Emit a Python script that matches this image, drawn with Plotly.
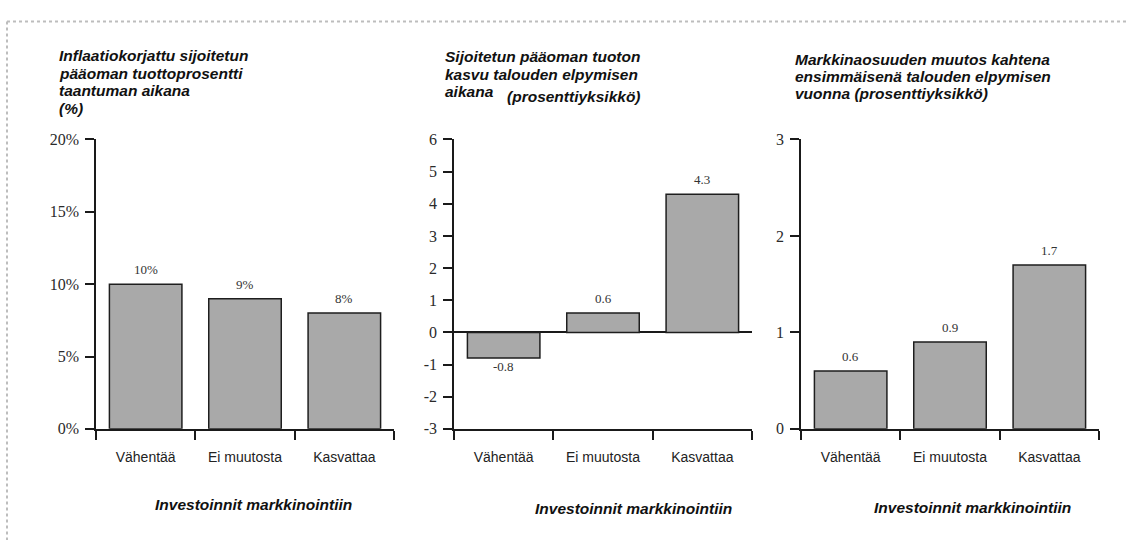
import plotly.graph_objects as go

W, H = 1126, 549

# ---- data ----
categories = ["Vähentää", "Ei muutosta", "Kasvattaa"]
roi_recession = [10, 9, 8]            # %
roi_growth_recovery = [-0.8, 0.6, 4.3]  # percentage points
market_share_change = [0.6, 0.9, 1.7]   # percentage points

roi_recession_labels = ["10%", "9%", "8%"]
roi_growth_labels = ["-0.8", "0.6", "4.3"]
market_share_labels = ["0.6", "0.9", "1.7"]

y1_ticks = [0, 5, 10, 15, 20]
y1_ticktext = ["0%", "5%", "10%", "15%", "20%"]
y2_ticks = [-3, -2, -1, 0, 1, 2, 3, 4, 5, 6]
y2_ticktext = ["-3", "-2", "-1", "0", "1", "2", "3", "4", "5", "6"]
y3_ticks = [0, 1, 2, 3]
y3_ticktext = ["0", "1", "2", "3"]

title1_lines = ["Inflaatiokorjattu sijoitetun", "pääoman tuottoprosentti",
                "taantuman aikana", "(%)"]
title2_lines = ["Sijoitetun pääoman tuoton", "kasvu talouden elpymisen", "aikana"]
title2_extra = "(prosenttiyksikkö)"
title3_lines = ["Markkinaosuuden muutos kahtena",
                "ensimmäisenä talouden elpymisen",
                "vuonna (prosenttiyksikkö)"]
xtitle = "Investoinnit markkinointiin"

# ---- layout helpers (pixel -> paper) ----
def px(x):
    return x / W

def py(y):
    return 1 - y / H

y_top, y_bot = 135.7, 434.3
domains_x = [(96, 394), (454, 752), (801, 1099)]

BAR_FILL = "#a9a9a9"
BAR_LINE = "#1e1e1e"
AX = "#1a1a1a"
SERIF = "Liberation Serif"
SANS = "Liberation Sans"

fig = go.Figure()

panels = [
    (roi_recession, roi_recession_labels, [0, 20], y1_ticks, y1_ticktext),
    (roi_growth_recovery, roi_growth_labels, [-3, 6], y2_ticks, y2_ticktext),
    (market_share_change, market_share_labels, [0, 3], y3_ticks, y3_ticktext),
]

annotations = []
for i, (vals, labels, yr, tv, tt) in enumerate(panels):
    n = "" if i == 0 else str(i + 1)
    fig.add_trace(go.Bar(
        x=categories, y=vals, width=0.73,
        marker=dict(color=BAR_FILL, line=dict(color=BAR_LINE, width=1.5)),
        xaxis="x" + n, yaxis="y" + n, showlegend=False, hoverinfo="skip",
    ))
    x0, x1 = domains_x[i]
    fig.update_layout(**{
        "xaxis" + n: dict(
            domain=[px(x0), px(x1)], anchor="y" + n, type="category",
            range=[-0.5, 2.5], tickson="boundaries", ticks="outside",
            ticklen=9, tickwidth=1.5, tickcolor=AX, showline=True,
            linecolor=AX, linewidth=1.5, showgrid=False, zeroline=False,
            tickfont=dict(family=SANS, size=14, color="#222"),
            ticklabelstandoff=15,
        ),
        "yaxis" + n: dict(
            domain=[py(y_bot), py(y_top)], anchor="x" + n, range=yr,
            tickmode="array", tickvals=tv, ticktext=tt, ticks="outside",
            ticklen=9, tickwidth=1.5, tickcolor=AX, showline=True,
            linecolor=AX, linewidth=1.5, showgrid=False,
            zeroline=(i == 1), zerolinecolor=AX, zerolinewidth=1.5,
            tickfont=dict(family=SERIF, size=16, color="#2a2a2a"),
            ticklabelstandoff=3,
        ),
    })
    for c, v, lab in zip(categories, vals, labels):
        annotations.append(dict(
            x=c, y=v, xref="x" + n, yref="y" + n, text=lab, showarrow=False,
            yanchor="bottom" if v >= 0 else "top",
            yshift=5 if v >= 0 else 1,
            font=dict(family=SERIF, size=13, color="#333333"),
        ))

TFONT = dict(family=SANS, size=15.5, color="#111")

def title_line(x, y, text):
    return dict(x=px(x), y=py(y), xref="paper", yref="paper", text="<b><i>" + text + "</i></b>",
                showarrow=False, xanchor="left", yanchor="middle", font=TFONT)

for k, t in enumerate(title1_lines):
    annotations.append(title_line(57, 49 + 18.3 * k, t))
for k, t in enumerate(title2_lines):
    annotations.append(title_line(443, 50 + 18.3 * k, t))
annotations.append(title_line(505, 91, title2_extra))
for k, t in enumerate(title3_lines):
    annotations.append(title_line(793, 53 + 17.8 * k, t))

for cx, cy in [(253, 512), (633, 517), (972, 515)]:
    annotations.append(dict(x=px(cx), y=py(cy), xref="paper", yref="paper",
                            text="<b><i>" + xtitle + "</i></b>", showarrow=False,
                            xanchor="center", yanchor="middle", font=TFONT))

shapes = [
    dict(type="line", xref="paper", yref="paper", x0=px(7), x1=1, y0=py(14), y1=py(14),
         line=dict(color="#bdbdbd", width=2, dash="dot")),
    dict(type="line", xref="paper", yref="paper", x0=px(7), x1=px(7), y0=py(14), y1=0,
         line=dict(color="#bdbdbd", width=2, dash="dot")),
]

fig.update_layout(
    width=W, height=H, margin=dict(l=0, r=0, t=0, b=0),
    paper_bgcolor="white", plot_bgcolor="white",
    annotations=annotations, shapes=shapes, bargap=0.27,
)

fig.write_html("out.html")
